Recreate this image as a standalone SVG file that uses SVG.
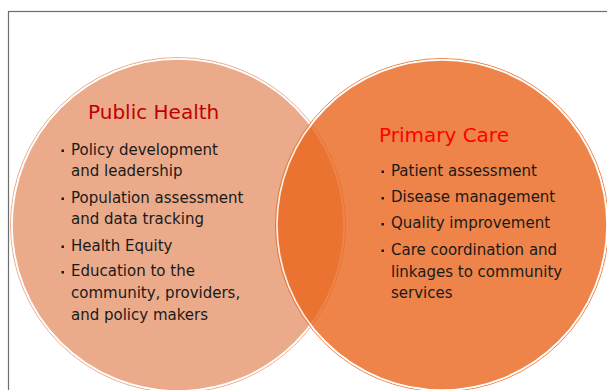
<svg xmlns="http://www.w3.org/2000/svg" width="607" height="390" viewBox="0 0 607 390">
<style>
.frame{fill:none;stroke:#6e6e6e;stroke-width:1.2}
.ring{fill:none;stroke-width:1}
.title{font-family:"DejaVu Sans",Verdana,sans-serif;font-size:20px}
.body{font-family:"DejaVu Sans",Verdana,sans-serif;font-size:15px;fill:#1a1a1a}
.bul{fill:#1a1a1a}
</style>
<rect class="frame" x="8.5" y="11.5" width="620" height="400"/>
<g id="public-health">
<circle class="ring" cx="178" cy="225" r="167.5" stroke="#EBAB8A"/>
<circle cx="178" cy="225" r="166" fill="#EBAB8A" stroke="#ffffff" stroke-width="1.6"/>
<text class="title" x="88" y="119" fill="#C00000">Public Health</text>
<g class="bul">
<rect x="61.5" y="149.5" width="2.5" height="2.5"/>
<rect x="61.5" y="197.5" width="2.5" height="2.5"/>
<rect x="61.5" y="245.5" width="2.5" height="2.5"/>
<rect x="61.5" y="271" width="2.5" height="2.5"/>
</g>
<text class="body" x="71" y="155">Policy development</text>
<text class="body" x="71" y="176">and leadership</text>
<text class="body" x="71" y="203">Population assessment</text>
<text class="body" x="71" y="224">and data tracking</text>
<text class="body" x="71" y="251">Health Equity</text>
<text class="body" x="71" y="276">Education to the</text>
<text class="body" x="71" y="298">community, providers,</text>
<text class="body" x="71" y="320">and policy makers</text>
</g>
<g id="primary-care">
<g opacity="0.8">
<circle class="ring" cx="442" cy="225" r="166.5" stroke="#EB661C"/>
<circle cx="442" cy="225" r="165" fill="#EB661C" stroke="#ffffff" stroke-width="1.6"/>
</g>
<text class="title" x="379" y="142" fill="#FF0000">Primary Care</text>
<g class="bul">
<rect x="381.5" y="170.5" width="2.5" height="2.5"/>
<rect x="381.5" y="197" width="2.5" height="2.5"/>
<rect x="381.5" y="223" width="2.5" height="2.5"/>
<rect x="381.5" y="249.5" width="2.5" height="2.5"/>
</g>
<text class="body" x="391" y="176">Patient assessment</text>
<text class="body" x="391" y="202">Disease management</text>
<text class="body" x="391" y="228">Quality improvement</text>
<text class="body" x="391" y="255">Care coordination and</text>
<text class="body" x="391" y="277">linkages to community</text>
<text class="body" x="391" y="298">services</text>
</g>
<g id="connectors"/>
</svg>
